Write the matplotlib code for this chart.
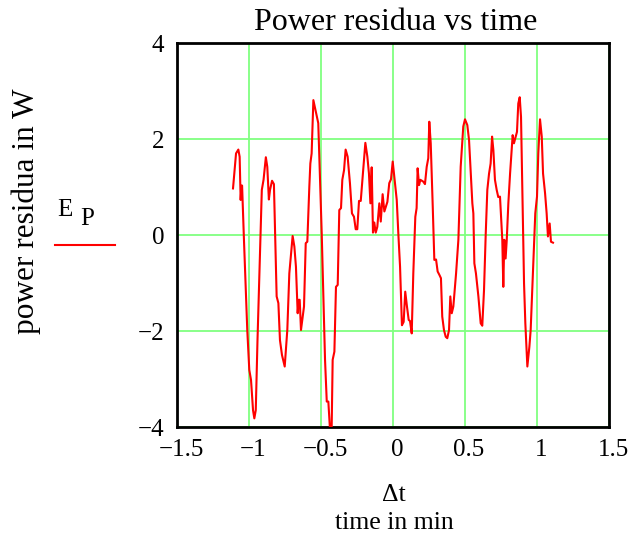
import matplotlib
matplotlib.use('Agg')
import matplotlib.pyplot as plt
from matplotlib.lines import Line2D
from matplotlib.transforms import ScaledTranslation

# time in min
t = [-1.111, -1.090, -1.074, -1.065, -1.058, -1.052, -1.048, -1.035, -1.012, -0.998,
     -0.986, -0.972, -0.963, -0.953, -0.941, -0.928, -0.911, -0.899, -0.883, -0.873,
     -0.862, -0.854, -0.840, -0.827, -0.808, -0.796, -0.785, -0.771, -0.752, -0.734,
     -0.720, -0.697, -0.685, -0.674, -0.662, -0.655, -0.648, -0.639, -0.618, -0.606,
     -0.595, -0.581, -0.574, -0.565, -0.553, -0.519, -0.495, -0.472, -0.460, -0.449,
     -0.438, -0.426, -0.419, -0.407, -0.396, -0.384, -0.373, -0.361, -0.352, -0.340,
     -0.329, -0.315, -0.299, -0.285, -0.271, -0.259, -0.248, -0.236, -0.224, -0.210,
     -0.192, -0.178, -0.167, -0.157, -0.148, -0.139, -0.130, -0.120, -0.109, -0.095,
     -0.085, -0.072, -0.060, -0.039, -0.026, -0.014, -0.002, 0.014, 0.026, 0.037,
     0.049, 0.062, 0.074, 0.085, 0.097, 0.109, 0.118, 0.130, 0.141, 0.155,
     0.164, 0.171, 0.181, 0.190, 0.211, 0.222, 0.234, 0.245, 0.252, 0.262,
     0.276, 0.287, 0.299, 0.310, 0.322, 0.333, 0.342, 0.354, 0.366, 0.377,
     0.389, 0.398, 0.408, 0.419, 0.438, 0.454, 0.470, 0.488, 0.500, 0.516,
     0.528, 0.540, 0.551, 0.558, 0.565, 0.576, 0.593, 0.609, 0.620, 0.632,
     0.644, 0.655, 0.667, 0.678, 0.688, 0.697, 0.708, 0.720, 0.731, 0.743,
     0.752, 0.759, 0.766, 0.773, 0.782, 0.790, 0.801, 0.813, 0.824, 0.831,
     0.840, 0.852, 0.861, 0.870, 0.880, 0.889, 0.900, 0.910, 0.919, 0.933,
     0.947, 0.956, 0.970, 0.981, 0.988, 1.000, 1.009, 1.021, 1.033, 1.042,
     1.056, 1.067, 1.076, 1.088, 1.097, 1.111]

# power residua in W
E_P = [0.97, 1.70, 1.78, 1.63, 0.73, 1.03, 1.03, -0.10, -1.98, -2.81,
       -3.02, -3.65, -3.82, -3.65, -2.19, -0.80, 0.94, 1.15, 1.62, 1.42,
       0.74, 0.94, 1.13, 1.06, -1.28, -1.42, -2.19, -2.50, -2.74, -1.98,
       -0.80, -0.02, -0.24, -0.66, -1.63, -1.35, -1.35, -1.98, -1.49, -0.17,
       -0.14, 1.01, 1.49, 1.70, 2.81, 2.33, 0.03, -2.60, -3.47, -3.47,
       -4.03, -4.03, -2.60, -2.43, -1.08, -1.04, 0.52, 0.56, 1.15, 1.35,
       1.78, 1.63, 1.08, 0.45, 0.38, 0.12, 0.12, 0.71, 0.71, 1.25,
       1.92, 1.63, 1.28, 0.66, 1.41, 0.05, 0.26, 0.05, 0.17, 0.66,
       0.28, 0.85, 0.49, 0.69, 1.08, 1.16, 1.53, 1.08, 0.73, 0.03,
       -0.66, -1.88, -1.81, -1.18, -1.49, -1.77, -1.79, -2.05, -0.80, 0.38,
       0.56, 1.39, 1.04, 1.15, 1.11, 1.06, 1.42, 1.60, 2.36, 1.91,
       0.59, -0.52, -0.51, -0.76, -0.83, -0.90, -1.70, -1.98, -2.12, -2.15,
       -1.98, -1.28, -1.63, -1.49, -0.80, -0.10, 1.42, 2.26, 2.41, 2.29,
       1.98, 1.28, 0.66, 0.45, -0.59, -0.80, -1.28, -1.84, -1.89, -1.15,
       0.03, 0.94, 1.28, 1.49, 2.05, 1.77, 1.15, 0.94, 0.79, 0.80,
       0.31, -0.10, -1.08, -0.10, -0.49, -0.10, 0.66, 1.28, 1.77, 2.08,
       1.91, 2.05, 2.15, 2.74, 2.87, 2.46, 0.59, -1.01, -1.84, -2.74,
       -2.33, -1.98, -0.94, -0.10, 0.45, 0.80, 1.70, 2.41, 2.05, 1.28,
       0.87, 0.45, -0.03, 0.24, -0.14, -0.16]

xticks = [-1.5, -1, -0.5, 0, 0.5, 1, 1.5]
xticklabels = ['\u22121.5', '\u22121', '\u22120.5', '0', '0.5', '1', '1.5']
yticks = [-4, -2, 0, 2, 4]
yticklabels = ['\u22124', '\u22122', '0', '2', '4']

plt.rcParams['font.family'] = ['Liberation Serif', 'DejaVu Serif']

W, H = 634, 539
fig = plt.figure(figsize=(W / 100, H / 100), dpi=100)
ax = fig.add_axes([177 / W, 1 - 427 / H, (609 - 177) / W, (427 - 43) / H])

ax.plot(t, E_P, color='#ff0000', lw=1.5, zorder=3)

ax.set_xlim(-1.5, 1.5)
ax.set_ylim(-4, 4)
ax.set_xticks(xticks)
ax.set_xticklabels(xticklabels, fontsize=18)
ax.set_yticks(yticks)
ax.set_yticklabels(yticklabels, fontsize=18)
ax.tick_params(length=0, pad=9)
# Mathcad puts the x labels a few pixels right of the grid lines
shift = ScaledTranslation(4 / 100, 0, fig.dpi_scale_trans)
for lab in ax.get_xticklabels():
    lab.set_transform(lab.get_transform() + shift)
ax.grid(True, color='#80ff80', lw=1.3)
for s in ax.spines.values():
    s.set_linewidth(2)
    s.set_color('black')

fig.text(396 / W, 1 - 22 / H, 'Power residua vs time', ha='center', va='center', fontsize=23)
fig.text(26 / W, 1 - 211 / H, 'power residua in W', ha='center', va='center',
         rotation=90, fontsize=22.5)
fig.text(394 / W, 1 - 495 / H, '\u0394t', ha='center', va='center', fontsize=18.5)
fig.text(394 / W, 1 - 523 / H, 'time in min', ha='center', va='center', fontsize=18.5)

# legend
fig.text(57 / W, 1 - 210 / H, 'E', ha='left', va='center', fontsize=18)
fig.text(80 / W, 1 - 219 / H, 'P', ha='left', va='center', fontsize=18)
fig.add_artist(Line2D([55 / W, 115 / W], [1 - 245 / H, 1 - 245 / H], color='#ff0000', lw=1.5))

plt.savefig('out.png', dpi=100)
